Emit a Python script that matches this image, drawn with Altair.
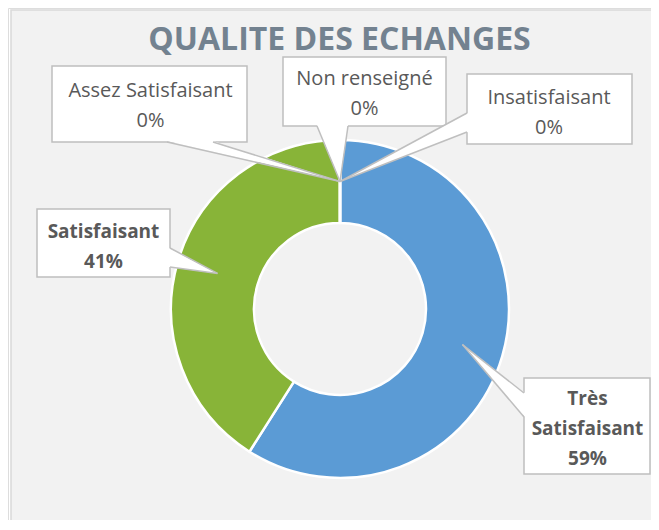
import math
import altair as alt
import pandas as pd

# ---------------- data ----------------
title = "QUALITE DES ECHANGES"
categories = ["Très Satisfaisant", "Satisfaisant", "Assez Satisfaisant", "Insatisfaisant", "Non renseigné"]
values = [59, 41, 0, 0, 0]
label_lines = [["Très", "Satisfaisant"], ["Satisfaisant"], ["Assez Satisfaisant"], ["Insatisfaisant"], ["Non renseigné"]]
bold_label = [True, True, False, False, False]
colors = ["#5B9BD5", "#88B438", "#A5A5A5", "#FFC000", "#4472C4"]

# ---------------- layout (pixel frame of the picture) ----------------
X0, X1, Y0, Y1 = 8, 651, 8, 520
CX, CY, R_OUT, R_IN = 340, 309, 169, 86
R_TIP = (R_OUT + R_IN) / 2
boxes = [  # x0, x1, y0, y1
    (524, 650, 378, 474),
    (37, 170, 209, 277),
    (52, 247, 66, 142),
    (467, 632, 74, 144),
    (283, 446, 57, 126),
]
text_pos = [(587.5, 405), (103.5, 238), (150.5, 97), (549, 104), (364.5, 85)]
wedge_base = [  # edge, a, b
    ("left", 393, 417),
    ("right", 248, 267),
    ("bottom", 167, 213),
    ("left", 113, 132),
    ("bottom", 317, 348),
]
TEXT_COLOR = "#595959"
BOX_STROKE = "#BFBFBF"

# ---------------- derived tables ----------------
total = sum(values)
cum = 0
tips = []
for v in values:
    a = (cum + v / 2) / total * 2 * math.pi
    cum += v
    tips.append((CX + R_TIP * math.sin(a), CY - R_TIP * math.cos(a)))

arc_df = pd.DataFrame({"cat": categories, "value": values, "idx": list(range(len(values)))})

box_df = pd.DataFrame(
    [{"x": b[0], "x2": b[1], "y": b[2], "y2": b[3]} for b in boxes]
)

lab_df = pd.DataFrame(
    [
        {
            "x": text_pos[i][0],
            "y": text_pos[i][1],
            "text": "\n".join(label_lines[i] + [f"{values[i]}%"]),
            "bold": bold_label[i],
        }
        for i in range(len(categories))
    ]
)

vert_rows, horiz_rows, line_rows = [], [], []
for i, (edge, a, b) in enumerate(wedge_base):
    bx0, bx1, by0, by1 = boxes[i]
    tx, ty = tips[i]
    if edge in ("left", "right"):
        ex = bx0 if edge == "left" else bx1
        inner = ex + (1 if edge == "left" else -1)
        vert_rows += [
            {"w": i, "x": inner, "y": a, "y2": b},
            {"w": i, "x": tx, "y": ty, "y2": ty},
        ]
        p1, p2 = (ex, a), (ex, b)
    else:
        ey = by1
        horiz_rows += [
            {"w": i, "y": ey - 1, "x": a, "x2": b},
            {"w": i, "y": ty, "x": tx, "x2": tx},
        ]
        p1, p2 = (a, ey), (b, ey)
    for s, p in enumerate((p1, p2)):
        line_rows += [
            {"side": f"{i}-{s}", "o": 0, "x": p[0], "y": p[1]},
            {"side": f"{i}-{s}", "o": 1, "x": tx, "y": ty},
        ]
vert_df = pd.DataFrame(vert_rows)
horiz_df = pd.DataFrame(horiz_rows)
line_df = pd.DataFrame(line_rows)

frame_df = pd.DataFrame([{"x": 11, "x2": 720, "y": 10, "y2": 700}])
title_df = pd.DataFrame([{"x": 339.5, "y": 50, "text": title}])

xs = alt.Scale(domain=[X0, X1], nice=False, zero=False)
ys = alt.Scale(domain=[Y0, Y1], nice=False, zero=False, reverse=True)


def X(f="x"):
    return alt.X(f"{f}:Q", scale=xs, axis=None)


def Y(f="y"):
    return alt.Y(f"{f}:Q", scale=ys, axis=None)


frame = alt.Chart(frame_df).mark_rect(fill="#F2F2F2", stroke="#D9D9D9", strokeWidth=1.5).encode(
    x=X(), x2="x2:Q", y=Y(), y2="y2:Q"
)

donut = alt.Chart(arc_df).mark_arc(
    radius=R_OUT, radius2=R_IN, stroke="white", strokeWidth=2.5, x=CX - X0, y=CY - Y0
).encode(
    theta=alt.Theta("value:Q", stack=True),
    color=alt.Color("cat:N", scale=alt.Scale(domain=categories, range=colors), legend=None),
    order=alt.Order("idx:Q"),
)

box_layer = alt.Chart(box_df).mark_rect(fill="white", stroke=BOX_STROKE, strokeWidth=1.5).encode(
    x=X(), x2="x2:Q", y=Y(), y2="y2:Q"
)

wedge_v = alt.Chart(vert_df).mark_area(fill="white", orient="vertical", opacity=1).encode(
    x=X(), y=alt.Y("y:Q", scale=ys, axis=None, stack=None), y2="y2:Q", detail="w:N"
)
wedge_h = alt.Chart(horiz_df).mark_area(fill="white", orient="horizontal", opacity=1).encode(
    y=Y(), x=alt.X("x:Q", scale=xs, axis=None, stack=None), x2="x2:Q", detail="w:N"
)
wedge_lines = alt.Chart(line_df).mark_line(color=BOX_STROKE, strokeWidth=1.5).encode(
    x=X(), y=Y(), detail="side:N", order="o:Q"
)

labels_regular = alt.Chart(lab_df).transform_filter("!datum.bold").mark_text(
    font="Open Sans", fontSize=20, color=TEXT_COLOR, align="center", baseline="alphabetic",
    lineBreak="\n", lineHeight=30,
).encode(x=X(), y=Y(), text="text:N")

labels_bold = alt.Chart(lab_df).transform_filter("datum.bold").mark_text(
    font="Open Sans", fontSize=19, fontWeight="bold", color=TEXT_COLOR, align="center",
    baseline="alphabetic", lineBreak="\n", lineHeight=30,
).encode(x=X(), y=Y(), text="text:N")

title_layer = alt.Chart(title_df).mark_text(
    font="Open Sans", fontSize=32, fontWeight="bold", color="#738290", align="center", baseline="alphabetic"
).encode(x=X(), y=Y(), text="text:N")

chart = (
    alt.layer(frame, donut, box_layer, wedge_v, wedge_h, wedge_lines, labels_regular, labels_bold, title_layer)
    .properties(width=X1 - X0, height=Y1 - Y0, padding=0, autosize=alt.AutoSizeParams(type="none"))
    .configure_view(stroke=None)
    .configure(background="white")
)

chart.save("out.html", embed_options={"renderer": "svg", "actions": False})
